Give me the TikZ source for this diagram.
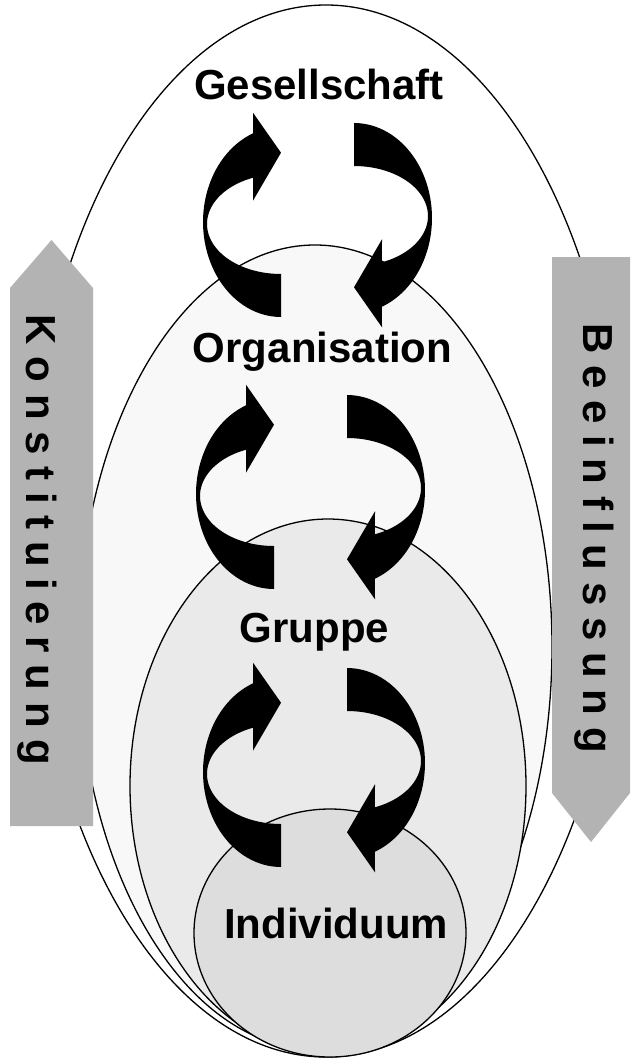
\documentclass[tikz,border=0pt]{standalone}
\usepackage{fontspec}
\setmainfont{Liberation Sans}
\definecolor{orgfill}{HTML}{F8F8F8}
\definecolor{grpfill}{HTML}{EAEAEA}
\definecolor{indfill}{HTML}{DDDDDD}
\definecolor{boxgray}{HTML}{B3B3B3}
\begin{document}
\begin{tikzpicture}[x=1pt,y=-1pt,
  ring/.style={draw=black,line width=1.3pt},
  lbl/.style={font=\bfseries\fontsize{42}{50}\selectfont,inner sep=0pt,anchor=base},
  vlbl/.style={lbl,rotate=-90},
  graybox/.style={fill=boxgray,draw=none},
  pics/cyca/.style={code={
    \fill[black] (281,317)
      -- plot[domain=90:249,samples=50] ({281+78*cos(\x)},{222+95*sin(\x)})
      -- (253,112.7) -- (281,152.7) -- (253,200.7)
      -- plot[domain=247.8:90,samples=50] ({281+74*cos(\x)},{224+50*sin(\x)})
      -- cycle;
  }}]
\fill[white] (0,0) rectangle (630,1060);
\useasboundingbox (0,0) rectangle (630,1060);

% nested ellipses
\path[ring,fill=white] (326,531) ellipse [x radius=297,y radius=526];
\path[ring,fill=orgfill] (315,647) ellipse [x radius=237,y radius=402];
\path[ring,fill=grpfill] (328,786) ellipse [x radius=198,y radius=267];
\path[ring,fill=indfill] (330,933) ellipse [x radius=136,y radius=124];

% circular arrow pairs
\pic {cyca};
\pic[rotate around={180:(317.5,220)}] {cyca};
\pic[shift={(-7,272)}] {cyca};
\pic[shift={(-7,272)},rotate around={180:(317.5,220)}] {cyca};
\pic[shift={(0,550)}] {cyca};
\pic[shift={(-7,545)},rotate around={180:(317.5,220)}] {cyca};

% side arrows
\path[graybox] (10,826) -- (10,288) -- (51.5,240) -- (93,288) -- (93,826) -- cycle;
\path[graybox] (552,257) -- (630,257) -- (630,793) -- (591,842) -- (552,793) -- cycle;

% labels
\node[lbl] (ges) at (319,99) {Gesellschaft};
\node[lbl] (org) at (322.5,362) {Organisation};
\node[lbl] (grp) at (314.5,642) {Gruppe};
\node[lbl] (ind) at (336,938) {Individuum};
\node[vlbl] (kon) at (27,540) {K o n s t i t u i e r u n g};
\node[vlbl] (bee) at (583,538) {B e e i n f l u s s u n g};
\end{tikzpicture}
\end{document}
